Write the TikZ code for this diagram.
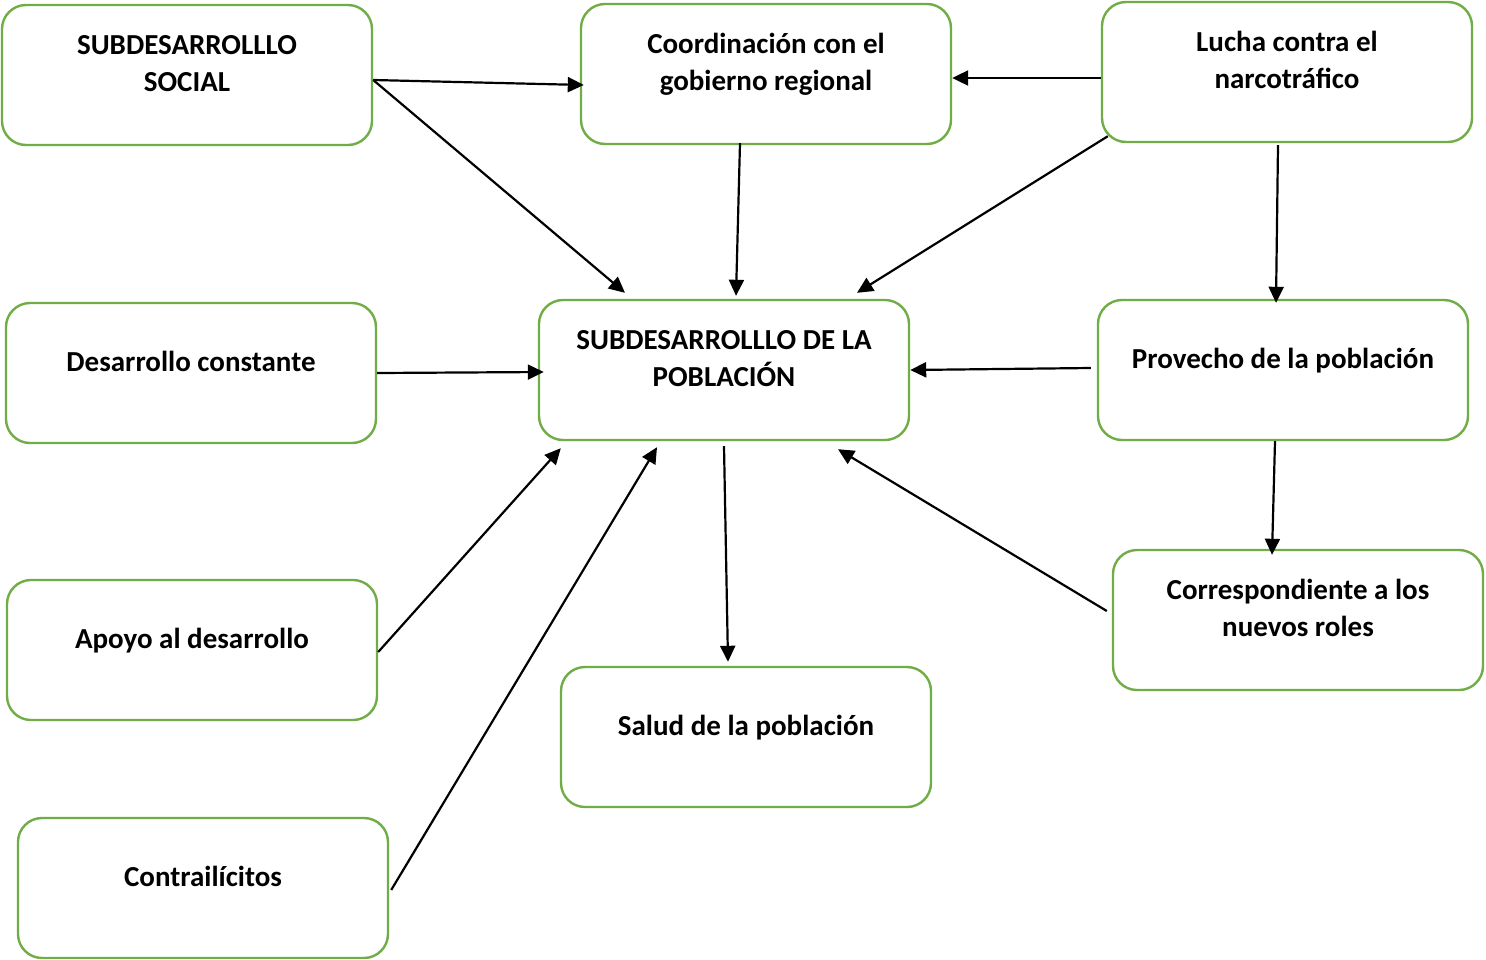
\documentclass[tikz,border=0pt]{standalone}
\usepackage{fontspec}
\setmainfont{Carlito}
\usepackage{xcolor}
\usepackage{tikz}
\usetikzlibrary{arrows.meta,positioning}
\definecolor{boxgreen}{RGB}{112,173,71}
% text sits a little above the middle of each box
\newcommand{\lift}[1]{\raisebox{9pt}[\height][\depth]{\begin{tabular}{@{}c@{}}#1\end{tabular}}}

\begin{document}
\begin{tikzpicture}[x=1pt,y=1pt,on grid,
	box/.style={draw=boxgreen,line width=2.4pt,rounded corners=24pt,
		minimum width=370pt,minimum height=140pt,align=center,
		font=\fontsize{29}{37}\selectfont\bfseries},
	>={Triangle[length=16pt,width=15pt]}]
	\useasboundingbox (0,0) rectangle (1486,-959);
	\node[box] (pob) at (724,-370) {\lift{SUBDESARROLLLO DE LA\\POBLACIÓN}};
	\node[box] (social) [above left=295pt and 537pt of pob] {\lift{SUBDESARROLLLO\\SOCIAL}};
	\node[box] (coord) [above right=296pt and 42pt of pob] {\lift{Coordinación con el\\gobierno regional}};
	\node[box] (lucha) [above right=298pt and 563pt of pob] {\lift{Lucha contra el\\narcotráfico}};
	\node[box] (desar) [below left=3pt and 533pt of pob] {\lift{Desarrollo constante}};
	\node[box] (prov) [right=559pt of pob] {\lift{Provecho de la población}};
	\node[box] (apoyo) [below left=280pt and 532pt of pob] {\lift{Apoyo al desarrollo}};
	\node[box] (corr) [below right=250pt and 574pt of pob] {\lift{Correspondiente a los\\nuevos roles}};
	\node[box] (salud) [below right=367pt and 22pt of pob] {\lift{Salud de la población}};
	\node[box] (contra) [below left=518pt and 521pt of pob] {\lift{Contrailícitos}};

	\path[->,line width=2.2pt]
	([yshift=-5pt]social.east) edge ([xshift=4pt,yshift=-11pt]coord.west)
	([yshift=-5pt]social.east) edge ([xshift=-99pt,yshift=6pt]pob.north)
	([xshift=-26pt,yshift=2pt]coord.south) edge ([xshift=12pt,yshift=3pt]pob.north)
	([yshift=-6pt]lucha.west) edge ([yshift=-4pt]coord.east)
	([xshift=7pt,yshift=7pt]lucha.south west) edge ([xshift=133pt,yshift=6pt]pob.north)
	([xshift=-9pt,yshift=-2pt]lucha.south) edge ([xshift=-7pt,yshift=-4pt]prov.north)
	(desar.east) edge ([xshift=6pt,yshift=-2pt]pob.west)
	([xshift=-6pt,yshift=2pt]prov.west) edge (pob.east)
	([xshift=-8pt]prov.south) edge ([xshift=-26pt,yshift=-6pt]corr.north)
	([yshift=-2pt]apoyo.east) edge ([xshift=23pt,yshift=-7pt]pob.south west)
	([xshift=2pt,yshift=-2pt]contra.east) edge ([xshift=-67pt,yshift=-6pt]pob.south)
	([yshift=-5pt]pob.south) edge ([xshift=-18pt,yshift=4pt]salud.north)
	([xshift=-5pt,yshift=9pt]corr.west) edge ([xshift=114pt,yshift=-8pt]pob.south)
	;
\end{tikzpicture}
\end{document}
